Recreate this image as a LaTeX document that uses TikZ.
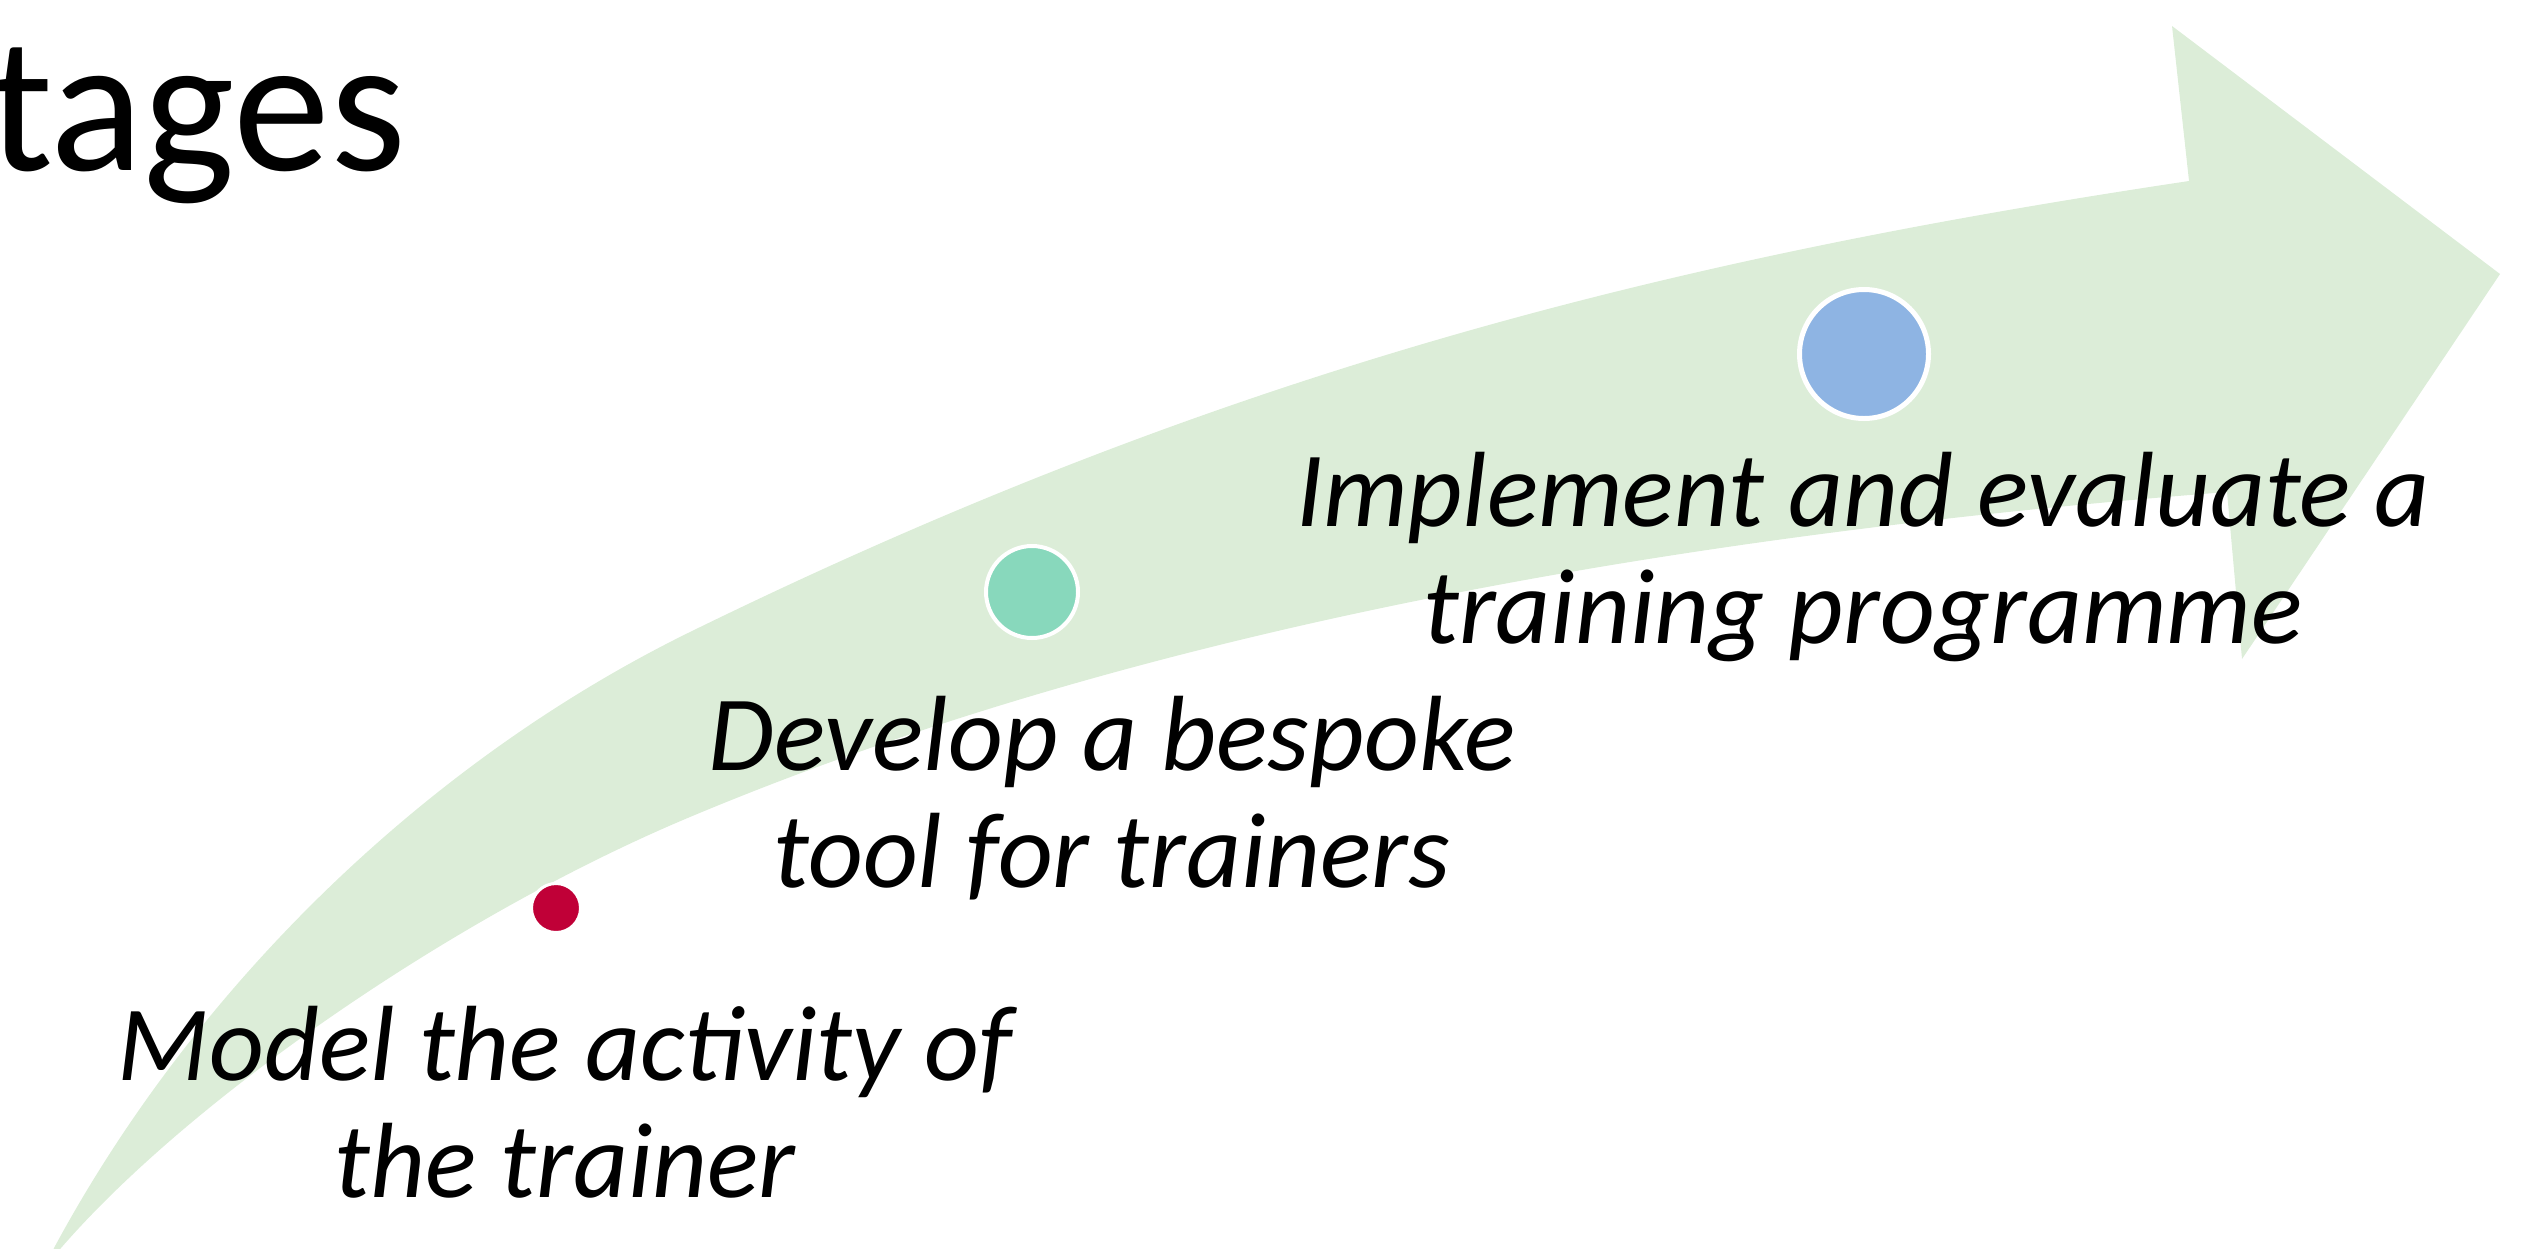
\documentclass[tikz,border=0pt]{standalone}
\usepackage{fontspec}
\setmainfont{Carlito}
\definecolor{arrowgreen}{RGB}{220,237,216}
\definecolor{dotred}{RGB}{192,0,55}
\definecolor{dotgreen}{RGB}{136,216,188}
\definecolor{dotblue}{RGB}{142,180,227}
\tikzset{
  lbl/.style={font=\fontsize{107}{117}\selectfont\itshape, align=center, inner sep=0pt, text=black},
  dot/.style={circle, draw=white, inner sep=0pt},
}
\begin{document}
\begin{tikzpicture}[x=1pt,y=-1pt]
\useasboundingbox (0,0) rectangle (2523,1248);
\begin{scope}
\clip (0,0) rectangle (2523,1248);
\fill[arrowgreen] (44,1268) -- (54,1248)
  .. controls (194,988) and (425,762) .. (690,632)
  .. controls (1229,368) and (1675,258) .. (2189,181)
  -- (2172,26) -- (2500,274) -- (2242,659) -- (2227,492)
  .. controls (1717,532) and (1162,619) .. (690,817)
  .. controls (456,915) and (191,1098) .. (61,1248)
  -- (46,1268) -- cycle;
\node[anchor=base west, font=\fontsize{194}{232}\selectfont, inner sep=0pt] (title) at (-12,170) {tages};
\end{scope}
\node[dot, fill=dotred, line width=3pt, minimum size=49pt] (s1) at (556,908) {};
\node[dot, fill=dotgreen, line width=4pt, minimum size=92pt] (s2) at (1032,592) {};
\node[dot, fill=dotblue, line width=5pt, minimum size=129pt] (s3) at (1864,354) {};
\node[lbl, anchor=base] (t1) at (565,1197) {Model the activity of\\the trainer};
\node[lbl, anchor=base] (t2) at (1112,887) {Develop a bespoke\\tool for trainers};
\node[lbl, anchor=base] (t3) at (1863,643) {Implement and evaluate a\\training programme};
\end{tikzpicture}
\end{document}
